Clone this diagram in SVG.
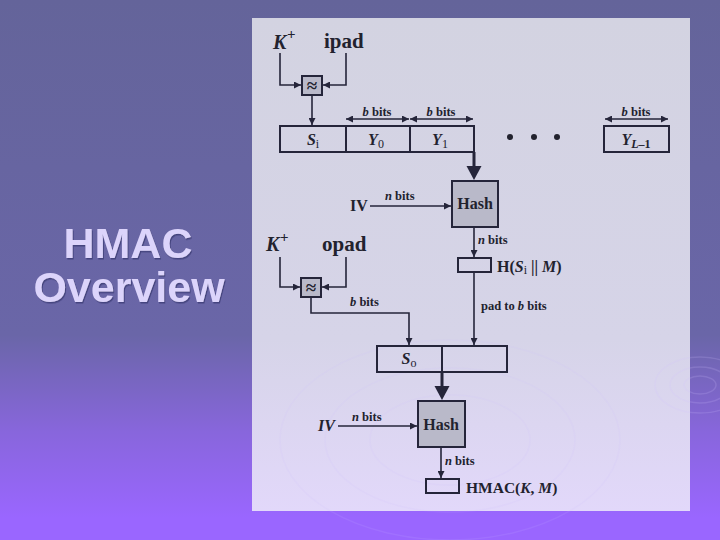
<svg xmlns="http://www.w3.org/2000/svg" width="720" height="540" viewBox="0 0 720 540">
<defs>
<linearGradient id="bg" x1="0" y1="0" x2="0" y2="1">
<stop offset="0" stop-color="#64649a"/>
<stop offset="0.62" stop-color="#6a66a8"/>
<stop offset="0.8" stop-color="#8866dc"/>
<stop offset="0.96" stop-color="#9a66ff"/>
</linearGradient>
<linearGradient id="panel" x1="0" y1="0" x2="0" y2="1">
<stop offset="0" stop-color="#d3d3e1"/>
<stop offset="0.65" stop-color="#d6d4e8"/>
<stop offset="1" stop-color="#e2d8fa"/>
</linearGradient>
<filter id="sh" x="-10%" y="-10%" width="120%" height="130%">
<feDropShadow dx="1" dy="1.5" stdDeviation="0.6" flood-color="#40407a" flood-opacity="0.9"/>
</filter>
<marker id="a" viewBox="0 0 10 10" refX="10" refY="5" markerWidth="8" markerHeight="7" markerUnits="userSpaceOnUse" orient="auto-start-reverse"><path d="M0,0 L10,5 L0,10 z" fill="#25253a"/></marker>
<style>
.ln{stroke:#25253a;stroke-width:1.6;fill:none}
.bx{stroke:#25253a;stroke-width:2;fill:none}
.gb{stroke:#25253a;stroke-width:2;fill:#b9b9c9}
.t{font-family:"Liberation Serif",serif;font-weight:bold;fill:#22222e}
.s{font-size:12.5px}
.m{font-size:16px}
.i{font-style:italic}
.ttl{font-family:"Liberation Sans",Arial,sans-serif;font-weight:bold;font-size:43px;fill:#dcd4fb;text-anchor:middle}
.rip{fill:none;stroke:#d0c0ff;stroke-width:1.5}
</style>
</defs>
<rect width="720" height="540" fill="url(#bg)"/>
<g id="title" filter="url(#sh)">
<text class="ttl" x="128" y="258">HMAC</text>
<text class="ttl" x="129" y="302">Overview</text>
</g>
<rect x="252" y="18" width="438" height="493" fill="url(#panel)"/>
<g id="ripples" stroke-opacity="0.18">
<ellipse class="rip" cx="700" cy="385" rx="45" ry="28" stroke-opacity="0.18"/>
<ellipse class="rip" cx="700" cy="385" rx="30" ry="18" stroke-opacity="0.18"/>
<ellipse class="rip" cx="700" cy="385" rx="16" ry="9" stroke-opacity="0.18"/>
<ellipse class="rip" cx="450" cy="440" rx="170" ry="100" stroke-opacity="0.12"/>
<ellipse class="rip" cx="450" cy="440" rx="125" ry="72" stroke-opacity="0.12"/>
<ellipse class="rip" cx="450" cy="440" rx="80" ry="45" stroke-opacity="0.12"/>
</g>

<g id="connectors">
<path class="ln" d="M280,53 V85 H301" marker-end="url(#a)"/>
<path class="ln" d="M346,53 V85 H323" marker-end="url(#a)"/>
<path class="ln" d="M312,95 V125" marker-end="url(#a)"/>
<path class="ln" d="M346,119 H409" marker-start="url(#a)" marker-end="url(#a)"/>
<path class="ln" d="M410,119 H473" marker-start="url(#a)" marker-end="url(#a)"/>
<path class="ln" d="M605,119 H668" marker-start="url(#a)" marker-end="url(#a)"/>
<path d="M474,152 V167" stroke="#25253a" stroke-width="3"/>
<path d="M466.5,166 L481.5,166 L474,180 z" fill="#25253a"/>
<path class="ln" d="M370,206 H451" marker-end="url(#a)"/>
<path class="ln" d="M474,227 V257" marker-end="url(#a)"/>
<path class="ln" d="M474,272 V345" marker-end="url(#a)"/>
<path class="ln" d="M280,257 V287 H300" marker-end="url(#a)"/>
<path class="ln" d="M346,257 V287 H322" marker-end="url(#a)"/>
<path class="ln" d="M311,297 V313 H409 V345" marker-end="url(#a)"/>
<path d="M442,372 V387" stroke="#25253a" stroke-width="3"/>
<path d="M434.5,386 L449.5,386 L442,400 z" fill="#25253a"/>
<path class="ln" d="M338,426 H417" marker-end="url(#a)"/>
<path class="ln" d="M441,447 V478" marker-end="url(#a)"/>
</g>

<g id="k1">
<text class="t i" x="273" y="49" font-size="20">K</text>
<text class="t" x="287" y="39" font-size="15">+</text>
</g>
<g id="ipad"><text class="t" x="324" y="48" font-size="21">ipad</text></g>
<g id="xor1">
<rect class="gb" x="302" y="76" width="20" height="19"/>
<text class="t" x="312" y="92" font-size="19" text-anchor="middle">≈</text>
</g>
<g id="si"><rect class="bx" x="280" y="126" width="66" height="26"/>
<text class="t m" x="313" y="145" text-anchor="middle"><tspan class="i">S</tspan><tspan font-size="12" font-weight="normal" dy="3">i</tspan></text></g>
<g id="y0"><rect class="bx" x="346" y="126" width="64" height="26"/>
<text class="t m" x="376" y="145" text-anchor="middle"><tspan class="i">Y</tspan><tspan font-size="12" font-weight="normal" dy="3">0</tspan></text></g>
<g id="y1"><rect class="bx" x="410" y="126" width="64" height="26"/>
<text class="t m" x="440" y="145" text-anchor="middle"><tspan class="i">Y</tspan><tspan font-size="12" font-weight="normal" dy="3">1</tspan></text></g>
<g id="dots">
<circle cx="510" cy="137" r="3" fill="#22222e"/>
<circle cx="534" cy="137" r="3" fill="#22222e"/>
<circle cx="557" cy="137" r="3" fill="#22222e"/>
</g>
<g id="yl"><rect class="bx" x="604" y="126" width="65" height="26"/>
<text class="t m" x="636" y="145" text-anchor="middle"><tspan class="i">Y</tspan><tspan font-size="12" class="i" dy="3">L</tspan><tspan font-size="12">–1</tspan></text></g>
<g id="blabels">
<text class="t s" x="377" y="116" text-anchor="middle"><tspan class="i">b</tspan> bits</text>
<text class="t s" x="441" y="116" text-anchor="middle"><tspan class="i">b</tspan> bits</text>
<text class="t s" x="636" y="116" text-anchor="middle"><tspan class="i">b</tspan> bits</text>
</g>
<g id="iv1">
<text class="t m" x="350" y="211">IV</text>
<text class="t s" x="385" y="200"><tspan class="i">n</tspan> bits</text>
</g>
<g id="hash1">
<rect class="gb" x="452" y="181" width="46" height="46"/>
<text class="t m" x="475" y="209" text-anchor="middle">Hash</text>
<text class="t s" x="478" y="244"><tspan class="i">n</tspan> bits</text>
</g>
<g id="h1">
<rect class="bx" x="458" y="258" width="33" height="14"/>
<text class="t m" x="497" y="272">H(<tspan class="i">S</tspan><tspan font-size="12" font-weight="normal" dy="2">i</tspan><tspan dy="-2"> || </tspan><tspan class="i">M</tspan>)</text>
<text class="t s" x="481" y="310">pad to <tspan class="i">b</tspan> bits</text>
</g>
<g id="k2">
<text class="t i" x="266" y="251" font-size="20">K</text>
<text class="t" x="280" y="242" font-size="15">+</text>
</g>
<g id="opad"><text class="t" x="322" y="251" font-size="21">opad</text></g>
<g id="xor2">
<rect class="gb" x="301" y="278" width="20" height="19"/>
<text class="t" x="311" y="294" font-size="19" text-anchor="middle">≈</text>
<text class="t s" x="350" y="306"><tspan class="i">b</tspan> bits</text>
</g>
<g id="so">
<rect class="bx" x="377" y="346" width="65" height="26"/>
<rect class="bx" x="442" y="346" width="65" height="26"/>
<text class="t m" x="409" y="364" text-anchor="middle"><tspan class="i">S</tspan><tspan font-size="12" font-weight="normal" dy="3">o</tspan></text>
</g>
<g id="iv2">
<text class="t m i" x="318" y="431">IV</text>
<text class="t s" x="352" y="421"><tspan class="i">n</tspan> bits</text>
</g>
<g id="hash2">
<rect class="gb" x="418" y="401" width="47" height="46"/>
<text class="t m" x="441" y="430" text-anchor="middle">Hash</text>
<text class="t s" x="445" y="465"><tspan class="i">n</tspan> bits</text>
</g>
<g id="hmac">
<rect class="bx" x="426" y="479" width="33" height="14"/>
<text class="t" x="466" y="493" font-size="15.5">HMAC(<tspan class="i">K</tspan>, <tspan class="i">M</tspan>)</text>
</g>
</svg>
